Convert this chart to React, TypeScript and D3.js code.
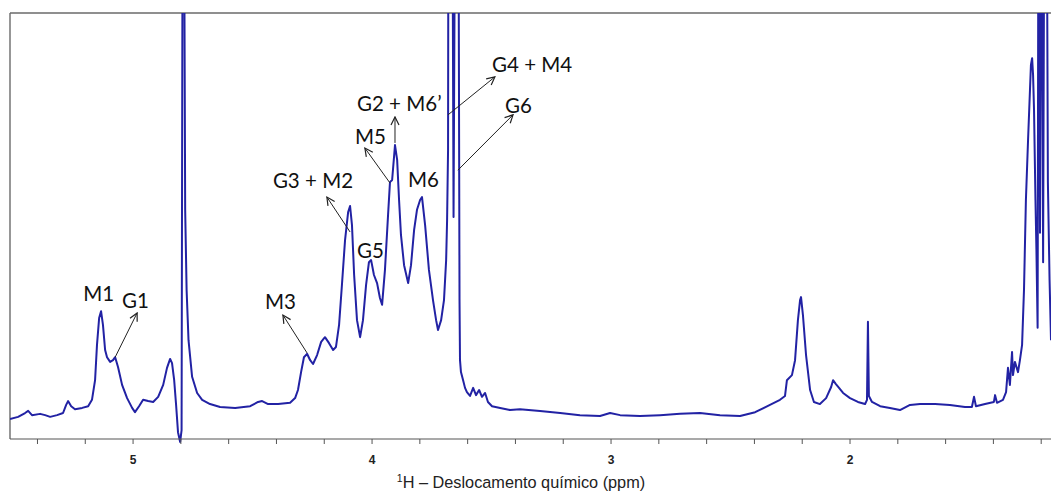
import React from "react";
import * as d3 from "d3";

// Chemical shift (ppm), decreasing left to right
const ppm: number[] = [
  5.515, 5.481, 5.452, 5.439, 5.423, 5.389, 5.368, 5.347, 5.318, 5.293,
  5.280, 5.272, 5.259, 5.243, 5.213, 5.188, 5.172, 5.159, 5.151, 5.142,
  5.134, 5.126, 5.117, 5.109, 5.096, 5.084, 5.075, 5.063, 5.046, 5.025,
  5.004, 4.992, 4.975, 4.958, 4.937, 4.916, 4.895, 4.874, 4.858, 4.845,
  4.837, 4.828, 4.820, 4.812, 4.803, 4.797, 4.792, 4.788, 4.782, 4.776,
  4.768, 4.753, 4.732, 4.711, 4.678, 4.636, 4.573, 4.510, 4.477, 4.460,
  4.435, 4.393, 4.343, 4.322, 4.310, 4.297, 4.285, 4.272, 4.259, 4.247,
  4.230, 4.213, 4.197, 4.180, 4.163, 4.151, 4.138, 4.126, 4.113, 4.100,
  4.092, 4.084, 4.075, 4.063, 4.050, 4.038, 4.025, 4.013, 4.004, 3.992,
  3.979, 3.967, 3.958, 3.946, 3.933, 3.925, 3.916, 3.904, 3.895, 3.887,
  3.879, 3.866, 3.849, 3.837, 3.824, 3.812, 3.799, 3.791, 3.778, 3.762,
  3.745, 3.732, 3.724, 3.711, 3.699, 3.690, 3.686, 3.682, 3.680, 3.677,
  3.674, 3.669, 3.665, 3.659, 3.651, 3.644, 3.638, 3.634, 3.632, 3.628,
  3.619, 3.611, 3.603, 3.590, 3.577, 3.565, 3.552, 3.540, 3.527, 3.515,
  3.498, 3.464, 3.423, 3.381, 3.297, 3.213, 3.130, 3.046, 3.004, 2.962,
  2.879, 2.795, 2.711, 2.628, 2.544, 2.460, 2.397, 2.335, 2.293, 2.272,
  2.264, 2.243, 2.230, 2.218, 2.209, 2.205, 2.197, 2.184, 2.167, 2.151,
  2.126, 2.100, 2.079, 2.071, 2.059, 2.046, 2.029, 2.000, 1.967, 1.937,
  1.929, 1.925, 1.921, 1.908, 1.874, 1.833, 1.791, 1.749, 1.707, 1.644,
  1.582, 1.519, 1.490, 1.481, 1.473, 1.435, 1.398, 1.393, 1.385, 1.360,
  1.347, 1.339, 1.331, 1.322, 1.318, 1.310, 1.297, 1.289, 1.280, 1.272,
  1.264, 1.255, 1.247, 1.243, 1.238, 1.234, 1.230, 1.224, 1.220, 1.215,
  1.211, 1.205, 1.199, 1.192, 1.186, 1.178, 1.172, 1.165, 1.159,
];

// Relative intensity (0–100 = visible window; larger values are clipped)
const intensity: number[] = [
  4.7, 5.2, 6.1, 6.6, 5.6, 5.9, 5.6, 5.2, 5.6, 6.1,
  8.0, 8.9, 7.7, 7.0, 7.3, 7.7, 9.2, 13.8, 22.1, 28.4,
  30.0, 26.8, 20.9, 19.2, 18.1, 18.5, 19.2, 16.9, 12.7, 9.6,
  7.3, 6.3, 7.7, 9.2, 8.9, 8.7, 9.9, 12.7, 16.7, 18.8,
  17.8, 13.8, 8.0, 1.6, -0.7, 2.1, 150, 150, 53.8, 35.0,
  23.2, 14.6, 10.8, 9.2, 8.2, 7.5, 7.3, 7.7, 8.7, 8.9,
  8.2, 8.2, 8.5, 9.6, 11.5, 15.7, 19.2, 20.0, 18.5, 17.6,
  19.7, 22.8, 23.9, 22.5, 20.9, 21.6, 26.8, 36.2, 46.7, 53.3,
  54.7, 50.2, 38.5, 27.9, 23.9, 27.9, 36.2, 41.5, 42.0, 38.5,
  36.6, 33.1, 31.5, 39.7, 52.6, 60.3, 60.8, 69.0, 65.5, 56.1,
  47.9, 40.8, 36.6, 40.8, 49.1, 53.8, 56.1, 56.8, 50.2, 39.7,
  32.6, 27.9, 25.6, 27.9, 32.6, 42.0, 51.4, 67.8, 150, 120,
  150, 110, 150, 52.1, 150, 150, 120, 32.6, 18.5, 15.7,
  13.8, 12.0, 11.0, 10.1, 12.0, 10.3, 11.5, 9.9, 10.8, 8.7,
  7.7, 7.3, 6.8, 7.0, 6.6, 6.1, 5.6, 5.4, 6.1, 5.6,
  5.4, 5.6, 5.9, 6.1, 5.6, 5.4, 6.3, 8.0, 9.2, 10.1,
  13.8, 15.0, 18.5, 27.9, 32.6, 33.3, 29.1, 19.7, 11.5, 8.7,
  8.2, 9.6, 12.2, 13.8, 12.9, 12.0, 10.8, 9.6, 8.7, 8.2,
  9.2, 27.5, 10.1, 8.7, 7.7, 7.3, 6.8, 8.0, 8.2, 8.2,
  8.0, 7.5, 7.5, 9.9, 7.7, 8.2, 8.7, 10.3, 8.5, 9.2,
  11.0, 16.7, 12.7, 20.4, 15.0, 18.1, 15.7, 18.5, 22.1, 35.0,
  56.1, 70.2, 81.9, 87.8, 89.4, 85.4, 77.2, 56.1, 44.4, 26.1,
  150, 48.4, 150, 41.5, 150, 150, 60.3, 37.3, 23.2,
];

const majorTicks: number[] = [5, 4, 3, 2];
const minorTicks: number[] = [5.4, 5.2, 5.0, 4.8, 4.6, 4.4, 4.2, 4.0, 3.8, 3.6, 3.4, 3.2, 3.0, 2.8, 2.6, 2.4, 2.2, 2.0, 1.8, 1.6, 1.4, 1.2];
const axisTitle = "H – Deslocamento químico (ppm)";

// Annotations: label, text anchor (ppm, intensity), arrow from (ppm,int) to (ppm,int)
const annLabels: string[] = ["M1", "G1", "M3", "G3 + M2", "G5", "M5", "G2 + M6’", "M6", "G4 + M4", "G6"];
const annTextPpm: number[] = [5.209, 5.046, 4.448, 4.415, 4.063, 4.071, 4.063, 3.850, 3.498, 3.444];
const annTextInt: number[] = [32.4, 30.8, 30.5, 58.9, 42.5, 69.2, 77.0, 59.2, 86.2, 76.5];
const arrowFromPpm: number[] = [NaN, 5.075, 4.272, 4.092, NaN, 3.925, 3.904, NaN, 3.682, 3.641];
const arrowFromInt: number[] = [NaN, 19.2, 20.2, 48.6, NaN, 60.1, 69.5, NaN, 76.1, 63.1];
const arrowToPpm: number[] = [NaN, 4.983, 4.373, 4.189, NaN, 4.030, 3.904, NaN, 3.486, 3.410];
const arrowToInt: number[] = [NaN, 29.6, 29.1, 56.8, NaN, 68.3, 75.6, NaN, 85.0, 76.1];

const W = 1051;
const H = 497;
const left = 10;
const top = 13;
const axisY = 439;

export default function App() {
  const x = d3.scaleLinear().domain([5.515, 1.159]).range([left, W]);
  const y = d3.scaleLinear().domain([0, 100]).range([axisY, top]);

  const pts = ppm.map((p, i) => [p, intensity[i]] as [number, number]);
  const line = d3
    .line<[number, number]>()
    .x((d) => x(d[0]))
    .y((d) => y(d[1]))
    .curve(d3.curveLinear);

  const ink = "#222";

  return (
    <svg
      width={W}
      height={H}
      style={{ position: "absolute", left: 0, top: 0, background: "#fff" }}
    >
      <defs>
        <clipPath id="plotclip">
          <rect x={left} y={top} width={W - left} height={axisY - top + 6} />
        </clipPath>
        <marker
          id="arrowhead"
          viewBox="0 0 10 10"
          refX="9"
          refY="5"
          markerWidth="10"
          markerHeight="10"
          orient="auto-start-reverse"
          markerUnits="userSpaceOnUse"
        >
          <path d="M1,1 L9,5 L1,9" fill="none" stroke={ink} strokeWidth={1.2} />
        </marker>
      </defs>

      {/* frame */}
      <line x1={left} x2={W} y1={top} y2={top} stroke="#6a6a6a" strokeWidth={1.6} />
      <line x1={left} x2={left} y1={top} y2={axisY} stroke="#6a6a6a" strokeWidth={1.4} />

      {/* spectrum */}
      <g clipPath="url(#plotclip)">
        <path d={line(pts) || ""} fill="none" stroke="#2222a4" strokeWidth={2} strokeLinejoin="round" />
      </g>

      {/* x axis */}
      <line x1={left} x2={W} y1={axisY} y2={axisY} stroke="#555" strokeWidth={1.2} />
      {minorTicks.map((t) => (
        <line key={"m" + t} x1={x(t)} x2={x(t)} y1={axisY} y2={axisY + 5} stroke="#555" strokeWidth={1} />
      ))}
      {majorTicks.map((t) => (
        <text
          key={"t" + t}
          x={x(t)}
          y={464}
          textAnchor="middle"
          fontFamily="Arial, 'Liberation Sans', sans-serif"
          fontWeight="bold"
          fontSize={12}
          fill={ink}
        >
          {t}
        </text>
      ))}
      <text
        x={521}
        y={488}
        textAnchor="middle"
        fontFamily="Arial, 'Liberation Sans', sans-serif"
        fontSize={16.3}
        fill={ink}
      >
        <tspan fontSize={10.5} dy={-6}>1</tspan>
        <tspan dy={6}>{axisTitle}</tspan>
      </text>

      {/* annotations */}
      {annLabels.map((lab, i) => (
        <g key={"a" + i}>
          <text
            x={x(annTextPpm[i])}
            y={y(annTextInt[i])}
            fontFamily="Lato, 'Open Sans', sans-serif"
            fontSize={20.5}
            fill="#111"
          >
            {lab}
          </text>
          {!isNaN(arrowFromPpm[i]) && (
            <line
              x1={x(arrowFromPpm[i])}
              y1={y(arrowFromInt[i])}
              x2={x(arrowToPpm[i])}
              y2={y(arrowToInt[i])}
              stroke={ink}
              strokeWidth={1}
              markerEnd="url(#arrowhead)"
            />
          )}
        </g>
      ))}
    </svg>
  );
}
